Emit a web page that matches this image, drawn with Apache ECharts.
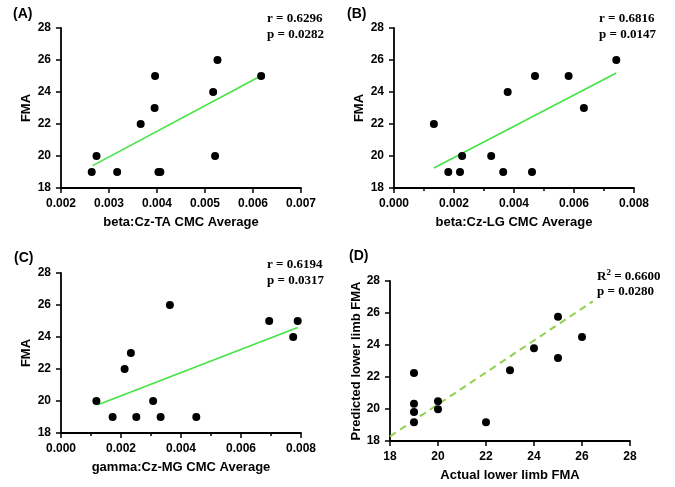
<!DOCTYPE html>
<html>
<head>
<meta charset="utf-8">
<script src="https://cdn.jsdelivr.net/npm/echarts@6/dist/echarts.min.js"></script>
<style>html,body{margin:0;padding:0;background:#fff}#c{width:675px;height:487px}</style>
</head>
<body>
<div id="c"></div>
<script>
// Panel A: beta Cz-TA
const aX = [0.00264, 0.00274, 0.00317, 0.00366, 0.00395, 0.00396, 0.00403, 0.00407, 0.00517, 0.00521, 0.00526, 0.00617];
const aY = [19, 20, 19, 22, 23, 25, 19, 19, 24, 20, 26, 25];
const aFitX = [0.00266, 0.00615];
const aFitY = [19.40, 24.98];
// Panel B: beta Cz-LG
const bX = [0.00133, 0.00181, 0.00220, 0.00227, 0.00324, 0.00364, 0.00379, 0.00460, 0.00470, 0.00582, 0.00633, 0.00741];
const bY = [22, 19, 19, 20, 20, 19, 24, 19, 25, 25, 23, 26];
const bFitX = [0.00133, 0.00741];
const bFitY = [19.25, 25.19];
// Panel C: gamma Cz-MG
const cX = [0.00118, 0.00172, 0.00212, 0.00233, 0.00251, 0.00307, 0.00332, 0.00363, 0.00451, 0.00694, 0.00774, 0.00789];
const cY = [20, 19, 22, 23, 19, 20, 19, 26, 19, 25, 24, 25];
const cFitX = [0.00123, 0.00789];
const cFitY = [19.77, 24.60];
// Panel D: actual vs predicted
const dX = [19, 19, 19, 19, 20, 20, 22, 23, 24, 25, 25, 26];
const dY = [19.17, 19.81, 20.33, 22.25, 19.98, 20.48, 19.17, 22.42, 23.79, 23.19, 25.77, 24.5];
const dFitX = [18, 26.45];
const dFitY = [18.29, 26.73];

const panelLabels = ['(A)', '(B)', '(C)', '(D)'];
const statsR = ['r = 0.6296', 'r = 0.6816', 'r = 0.6194', '0.6600'];
const statsP = ['p = 0.0282', 'p = 0.0147', 'p = 0.0317', 'p = 0.0280'];
const xNames = ['beta:Cz-TA CMC Average', 'beta:Cz-LG CMC Average', 'gamma:Cz-MG CMC Average', 'Actual lower limb FMA'];
const yNames = ['FMA', 'FMA', 'FMA', 'Predicted lower limb FMA'];
const xTicks = [[0.002, 0.007, 0.001], [0, 0.008, 0.002], [0, 0.008, 0.002], [18, 28, 2]];
const yTicks = [18, 28, 2];

const zip = (xs, ys) => xs.map((x, i) => [x, ys[i]]);

const grids = [
  {left: 61, top: 28, width: 240, height: 160},
  {left: 394, top: 28, width: 240, height: 160},
  {left: 61, top: 273, width: 240, height: 160},
  {left: 390, top: 281, width: 240, height: 160}
];
const minorOn = [false, true, true, false];
const dec = [3, 3, 3, 0];

const axisCommon = {
  axisLine: {show: true, lineStyle: {color: '#000', width: 1.8}},
  axisTick: {show: true, length: 5, lineStyle: {color: '#000', width: 1.5}},
  splitLine: {show: false},
  nameLocation: 'middle',
  nameTextStyle: {fontFamily: 'Liberation Sans, Arial', fontWeight: 'bold', fontSize: 13, color: '#000'}
};

const xAxes = xTicks.map((t, i) => Object.assign({}, axisCommon, {
  type: 'value', gridIndex: i, min: t[0], max: t[1], interval: t[2],
  name: xNames[i], nameGap: 28,
  minorTick: {show: minorOn[i], splitNumber: 2, length: 3, lineStyle: {color: '#000', width: 1.5}},
  axisLabel: {margin: 10, color: '#000', fontFamily: 'Liberation Sans, Arial', fontWeight: 'bold', fontSize: 12,
    formatter: v => v.toFixed(dec[i])}
}));
const yAxes = grids.map((g, i) => Object.assign({}, axisCommon, {
  type: 'value', gridIndex: i, min: yTicks[0], max: yTicks[1], interval: yTicks[2],
  name: yNames[i], nameGap: i === 3 ? 25 : 28, nameRotate: 90,
  axisLabel: {margin: 10, color: '#000', fontFamily: 'Liberation Sans, Arial', fontWeight: 'bold', fontSize: 12}
}));

const scatterData = [zip(aX, aY), zip(bX, bY), zip(cX, cY), zip(dX, dY)];
const fitData = [zip(aFitX, aFitY), zip(bFitX, bFitY), zip(cFitX, cFitY), zip(dFitX, dFitY)];

const series = [];
fitData.forEach((d, i) => {
  series.push({
    type: 'line', xAxisIndex: i, yAxisIndex: i, data: d, symbol: 'none', silent: true,
    lineStyle: i === 3 ? {color: '#8fd04f', width: 2, type: [7, 5]} : {color: '#44e444', width: 1.6},
    z: 2
  });
});
scatterData.forEach((d, i) => {
  series.push({
    type: 'scatter', xAxisIndex: i, yAxisIndex: i, data: d, symbol: 'circle', symbolSize: 8,
    itemStyle: {color: '#000', opacity: 1}, z: 3
  });
});

const labelPos = [[13, 15], [347, 15], [14, 259], [349, 257]];
const statPos = [[267, 20, 36], [599, 20, 36], [267, 266, 282], [597, 277, 293]];
const graphic = [];
panelLabels.forEach((t, i) => {
  graphic.push({type: 'text', left: labelPos[i][0], top: labelPos[i][1] - 8,
    style: {text: t, fill: '#000', font: 'bold 14px "Liberation Sans", Arial'}});
});
const serif = 'bold 13px "Liberation Serif", "Times New Roman"';
statPos.forEach((p, i) => {
  if (i === 3) {
    graphic.push({type: 'text', left: p[0], top: p[1] - 9,
      style: {text: '{b|R}{s|2}{b| = ' + statsR[i] + '}', rich: {
        b: {font: serif, fill: '#000', verticalAlign: 'bottom'},
        s: {font: 'bold 9px "Liberation Serif", "Times New Roman"', fill: '#000', verticalAlign: 'top', padding: [0, 0, 6, 0]}
      }}});
  } else {
    graphic.push({type: 'text', left: p[0], top: p[1] - 8,
      style: {text: statsR[i], fill: '#000', font: serif}});
  }
  graphic.push({type: 'text', left: p[0], top: p[2] - 8,
    style: {text: statsP[i], fill: '#000', font: serif}});
});

const chart = echarts.init(document.getElementById('c'), null, {renderer: 'canvas'});
chart.setOption({
  animation: false,
  backgroundColor: '#fff',
  grid: grids,
  xAxis: xAxes,
  yAxis: yAxes,
  series: series,
  graphic: graphic
});
</script>
</body>
</html>
